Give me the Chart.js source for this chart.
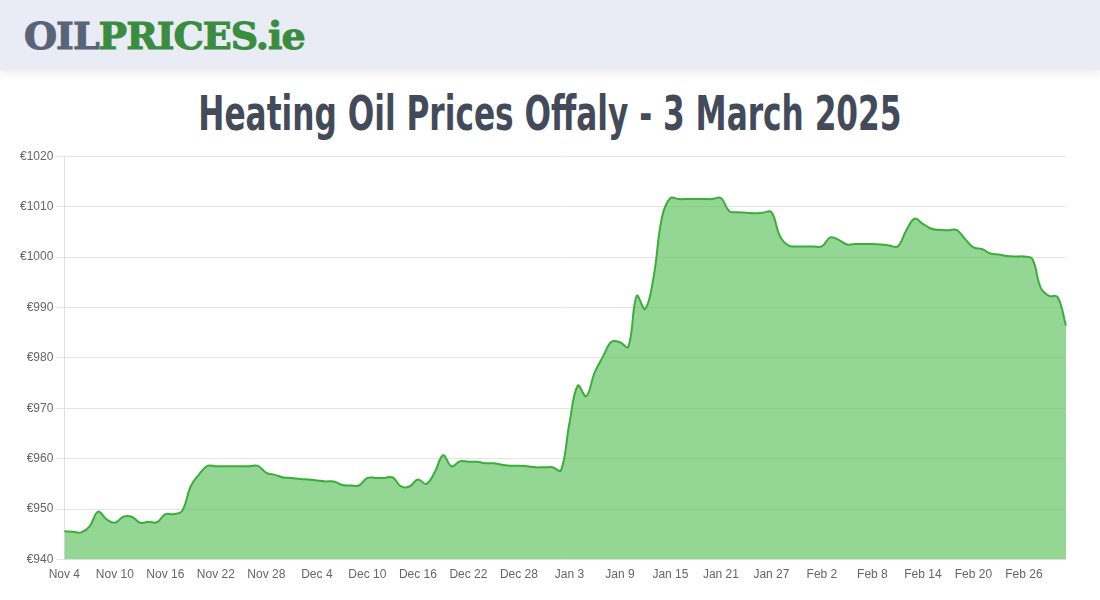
<!DOCTYPE html>
<html>
<head>
<meta charset="utf-8">
<script src="https://cdn.jsdelivr.net/npm/chart.js@4.4.1/dist/chart.umd.min.js"></script>
<style>
  html, body { margin: 0; padding: 0; background: #fff; width: 1100px; height: 600px; overflow: hidden; }
  .topbar {
    position: absolute; left: 0; top: 0; width: 1100px; height: 70px;
    background: #e9ecf4; box-shadow: 0 3px 8px rgba(0,0,0,0.08);
  }
  .logo {
    position: absolute; left: 24px; top: 14px;
    font-family: "DejaVu Serif", serif; font-weight: 900; font-size: 38px;
    letter-spacing: -1px; line-height: 44px;
    -webkit-text-stroke: 1px currentColor;
  }
  .logo .oil { color: #5a6478; }
  .logo .rest { color: #3a8c3f; }
  h1 {
    position: absolute; left: 0; top: 83px; width: 1100px; margin: 0;
    text-align: center; color: #434a59;
    font-family: "DejaVu Sans", sans-serif;
    font-weight: bold; font-size: 48px; line-height: 60px;
  }
  h1 span { display: inline-block; transform: scaleX(0.65); transform-origin: 50% 50%; white-space: nowrap; }
  .wrap { position: absolute; left: 17px; top: 146px; width: 1057px; height: 444px; }
</style>
</head>
<body>
<div class="topbar"><div class="logo"><span class="oil">OIL</span><span class="rest">PRICES.ie</span></div></div>
<h1><span>Heating Oil Prices Offaly - 3 March 2025</span></h1>
<div class="wrap"><canvas id="priceChart"></canvas></div>
<script>
// daily prices, Nov 4 2024 -> Mar 3 2025
var novPrices = [945.6, 945.5, 945.4, 946.6, 949.5, 948.0, 947.3, 948.5, 948.5, 947.3, 947.5, 947.4, 949.0, 949.0,
                 949.7, 954.5, 956.9, 958.6, 958.5, 958.5, 958.5, 958.5, 958.5, 958.6, 957.2, 956.8, 956.3];
var decPrices = [956.2, 956.0, 955.9, 955.7, 955.5, 955.5, 954.8, 954.7, 954.7, 956.2, 956.2, 956.2, 956.3, 954.5,
                 954.5, 955.9, 955.0, 957.3, 960.7, 958.5, 959.5, 959.4, 959.4, 959.1, 959.1, 958.8, 958.6, 958.6,
                 958.5, 958.3, 958.3];
var janPrices = [958.3, 957.7, 967.0, 974.5, 972.4, 977.1, 980.3, 983.2, 983.1, 982.2, 992.3, 989.7, 996.0, 1007.9,
                 1011.7, 1011.5, 1011.5, 1011.5, 1011.5, 1011.5, 1011.7, 1009.1, 1008.9, 1008.8, 1008.7, 1008.8,
                 1008.9, 1004.2, 1002.3, 1002.1, 1002.1];
var febPrices = [1002.1, 1002.1, 1003.9, 1003.4, 1002.5, 1002.6, 1002.6, 1002.6, 1002.5, 1002.3, 1002.1, 1005.2,
                 1007.6, 1006.6, 1005.6, 1005.4, 1005.3, 1005.4, 1003.6, 1001.9, 1001.6, 1000.7, 1000.5, 1000.2,
                 1000.1, 1000.1, 999.6, 993.9];
var marPrices = [992.3, 992.1, 986.4];

var prices = novPrices.concat(decPrices, janPrices, febPrices, marPrices);

var monthNames = ['Jan', 'Feb', 'Mar', 'Apr', 'May', 'Jun', 'Jul', 'Aug', 'Sep', 'Oct', 'Nov', 'Dec'];
var labels = [];
var d = new Date(2024, 10, 4);
for (var i = 0; i < prices.length; i++) {
    labels.push(monthNames[d.getMonth()] + ' ' + d.getDate());
    d.setDate(d.getDate() + 1);
}

var yMin = 940, yMax = 1020, yStep = 10;
var labelEvery = 6;

const ctx = document.getElementById('priceChart').getContext('2d');
new Chart(ctx, {
    type: 'line',
    data: {
        labels: labels,
        datasets: [{
            label: 'Price',
            data: prices,
            borderColor: '#3aad3a',
            backgroundColor: 'rgba(76, 187, 76, 0.6)',
            borderWidth: 2,
            fill: true,
            tension: 0.4,
            pointRadius: 0
        }]
    },
    options: {
        responsive: true,
        maintainAspectRatio: false,
        animation: false,
        plugins: {
            legend: { display: false },
            tooltip: { enabled: false }
        },
        scales: {
            x: {
                grid: { display: false, drawTicks: false },
                border: { display: false },
                ticks: {
                    autoSkip: false,
                    maxRotation: 0,
                    color: '#666',
                    font: { family: 'Arial, "Liberation Sans", sans-serif', size: 12 },
                    padding: 8,
                    callback: function (value, index) {
                        return index % labelEvery === 0 ? this.getLabelForValue(value) : '';
                    }
                }
            },
            y: {
                min: yMin,
                max: yMax,
                grid: { color: '#e5e5e5' },
                border: { color: '#e0e0e0' },
                ticks: {
                    stepSize: yStep,
                    color: '#666',
                    font: { family: 'Arial, "Liberation Sans", sans-serif', size: 12 },
                    callback: function (value) { return '€' + value; }
                }
            }
        }
    }
});
</script>
</body>
</html>
